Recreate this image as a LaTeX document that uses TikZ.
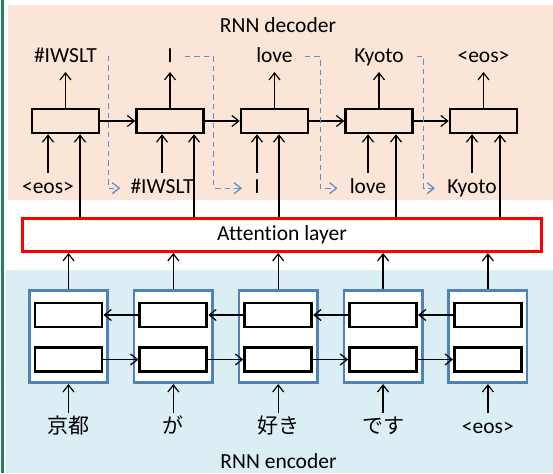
\documentclass[tikz,border=0pt]{standalone}
\usepackage{fontspec}
\setmainfont{Carlito}[Ligatures=NoCommon]
\newfontfamily\jpfont{Noto Sans CJK JP}
\usetikzlibrary{arrows.meta, calc, positioning}
\definecolor{decbg}{HTML}{FBE5D6}
\definecolor{encbg}{HTML}{DAEEF3}
\definecolor{cellblue}{HTML}{4F81BD}
\definecolor{feedblue}{HTML}{5B8ED6}
\definecolor{slidegreen}{HTML}{2A7F62}
\tikzset
{%
decbox/.style={draw, line width=2.5pt, minimum width=67pt, minimum height=24pt, inner sep=0pt},
encbox/.style={decbox, line width=2.8pt, fill=white},
cell/.style={draw=cellblue, line width=2.6pt, fill=white, minimum width=78.5pt, minimum height=92.5pt, inner sep=0pt},
attn/.style={draw=red, line width=3pt, fill=white, minimum width=519pt, minimum height=33pt, font=\fontsize{21.5}{26}\selectfont},
word/.style={font=\fontsize{21.5}{26}\selectfont, text height=15pt, text depth=4pt, inner xsep=0pt, inner ysep=5.5pt},
jword/.style={word, font=\fontsize{21}{26}\selectfont\jpfont},
title/.style={font=\fontsize{21.5}{26}\selectfont},
arr/.style={-{Straight Barb[length=7pt, width=11pt]}, line width=1.2pt},
feed/.style={arr, draw=feedblue, line width=1.3pt, dash pattern=on 5.5pt off 4pt}
}

\begin{document}
\begin{tikzpicture}[x=1pt, y=-1pt]
	\useasboundingbox (0,0) rectangle (553,473);

		% [BACKGROUND]
		\fill[slidegreen] (1,0) rectangle (3.5,473);
		\fill[decbg] (8,5) rectangle (553,200);
		\fill[encbg] (6,270) rectangle (553,473);
		\node[title] (dectitle) at (278,25) {RNN decoder};
		\node[title] (enctitle) at (278.5,461) {RNN encoder};

		% [DECODER]
		\node[decbox] (d1) at (65.5,121) {};
		\node[decbox, right=35pt of d1] (d2) {};
		\node[decbox, right=35pt of d2] (d3) {};
		\node[decbox, right=35pt of d3] (d4) {};
		\node[decbox, right=35pt of d4] (d5) {};

		% outputs
		\node[word, above=35.75pt of d1] (o1) {\#IWSLT};
		\node[word, above=35.75pt of d2] (o2) {I};
		\node[word, above=35.75pt of d3] (o3) {love};
		\node[word, above=35.75pt of d4] (o4) {Kyoto};
		\node[word, above=35.75pt of d5] (o5) {<eos>};

		% inputs
		\node[word, below=38.75pt of d1, xshift=-17.5pt] (i1) {<eos>};
		\node[word, below=38.75pt of d2, xshift=-8pt] (i2) {\#IWSLT};
		\node[word, below=38.75pt of d3, xshift=-17.5pt] (i3) {I};
		\node[word, below=38.75pt of d4, xshift=-11pt] (i4) {love};
		\node[word, below=38.75pt of d5, xshift=-11.5pt] (i5) {Kyoto};

		% context entry points
		\coordinate (a1) at ([xshift=14.5pt]d1.south);
		\coordinate (a2) at ([xshift=24pt]d2.south);
		\coordinate (a3) at ([xshift=4.5pt]d3.south);
		\coordinate (a4) at ([xshift=17pt]d4.south);
		\coordinate (a5) at ([xshift=16.5pt]d5.south);

		% feedback corners
		\coordinate (f1) at ([xshift=8pt]d1.east);
		\coordinate (f2) at ([xshift=9pt]d2.east);
		\coordinate (f3) at ([xshift=11pt]d3.east);
		\coordinate (f4) at ([xshift=10pt]d4.east);

		% [ATTENTION]
		\node[attn] (attn) at (282,235) {Attention layer};

		% [ENCODER]
		\node[cell] (e1) at (68.5,336.5) {};
		\node[cell, right=23.75pt of e1] (e2) {};
		\node[cell, right=23.75pt of e2] (e3) {};
		\node[cell, right=23.75pt of e3] (e4) {};
		\node[cell, right=23.75pt of e4] (e5) {};

		% backward / forward states
		\node[encbox] (bw1) at ([yshift=21.5pt]e1.center) {};
		\node[encbox] (fw1) at ([yshift=-23pt]e1.center) {};
		\node[encbox] (bw2) at ([yshift=21.5pt]e2.center) {};
		\node[encbox] (fw2) at ([yshift=-23pt]e2.center) {};
		\node[encbox] (bw3) at ([yshift=21.5pt]e3.center) {};
		\node[encbox] (fw3) at ([yshift=-23pt]e3.center) {};
		\node[encbox] (bw4) at ([yshift=21.5pt]e4.center) {};
		\node[encbox] (fw4) at ([yshift=-23pt]e4.center) {};
		\node[encbox] (bw5) at ([yshift=21.5pt]e5.center) {};
		\node[encbox] (fw5) at ([yshift=-23pt]e5.center) {};

		% source words
		\node[jword, below=29pt of e1] (w1) {京都};
		\node[jword, below=29pt of e2] (w2) {が};
		\node[jword, below=29pt of e3] (w3) {好き};
		\node[jword, below=29pt of e4] (w4) {です};
		\node[word, below=29pt of e5] (w5) {<eos>};

		% [CONNECTORS]
		\path[arr] (d1) edge (d2) (d2) edge (d3) (d3) edge (d4) (d4) edge (d5);
		\path[arr] (d1.north) edge (o1.south) (d2.north) edge (o2.south) (d3.north) edge (o3.south)
		(d4.north) edge (o4.south) (d5.north) edge (o5.south);
		\path[arr] (i1.north) edge (i1 |- d1.south) (i2.north) edge (i2 |- d2.south)
		(i3.north) edge (i3 |- d3.south) (i4.north) edge (i4 |- d4.south) (i5.north) edge (i5 |- d5.south);
		\path[arr] (a1 |- attn.north) edge (a1) (a2 |- attn.north) edge (a2) (a3 |- attn.north) edge (a3)
		(a4 |- attn.north) edge (a4) (a5 |- attn.north) edge (a5);

		\draw[feed] ([xshift=12pt]o1.east) -| (f1 |- i2) -- ([xshift=-10pt]i2.west);
		\draw[feed] ([xshift=12pt]o2.east) -| (f2 |- i3) -- ([xshift=-12pt]i3.west);
		\draw[feed] ([xshift=12pt]o3.east) -| (f3 |- i4) -- ([xshift=-12pt]i4.west);
		\draw[feed] ([xshift=13pt]o4.east) -| (f4 |- i5) -- ([xshift=-12pt]i5.west);

		\path[arr] (e1.north) edge (e1.north |- attn.south) (e2.north) edge (e2.north |- attn.south)
		(e3.north) edge (e3.north |- attn.south) (e4.north) edge (e4.north |- attn.south)
		(e5.north) edge (e5.north |- attn.south);
		\path[arr] (bw2) edge (bw1) (bw3) edge (bw2) (bw4) edge (bw3) (bw5) edge (bw4);
		\path[arr] (fw1) edge (fw2) (fw2) edge (fw3) (fw3) edge (fw4) (fw4) edge (fw5);
		\path[arr] (w1.north) edge (e1.south) (w2.north) edge (e2.south) (w3.north) edge (e3.south)
		(w4.north) edge (e4.south) (w5.north) edge (e5.south);
\end{tikzpicture}
\end{document}
